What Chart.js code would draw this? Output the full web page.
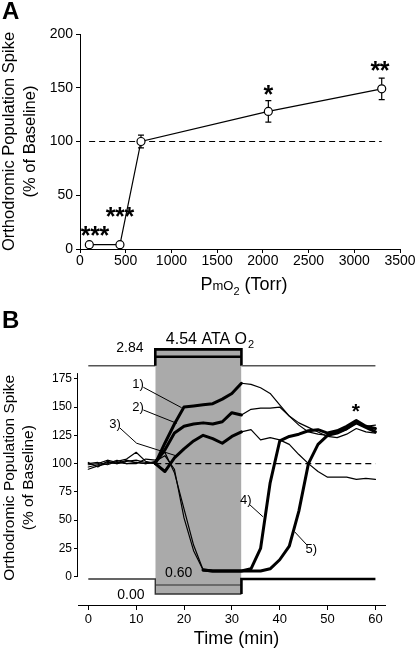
<!DOCTYPE html>
<html>
<head>
<meta charset="utf-8">
<script src="https://cdn.jsdelivr.net/npm/chart.js@4.4.1/dist/chart.umd.min.js"></script>
<style>
  body { margin: 0; background: #fff; }
  canvas { display: block; }
</style>
</head>
<body>
<canvas id="chartA" width="416" height="300"></canvas>
<canvas id="chartB" width="416" height="348"></canvas>
<script>
// ─── Panel A data ──────────────────────────
const pressureTorr = [102, 437, 667, 2060, 3300];
const spikeMean    = [4, 4, 100, 128, 149];
const spikeErr     = [0, 0, 6, 10, 10];
const starTextA    = ['***', '***', '*', '**'];
const starAtA      = [[164, 17], [437, 34], [2060, 148], [3281, 170]];
const baselineA    = [[100, 100], [3300, 100]];

// ─── Panel B data ──────────────────────────
const times = [0, 2, 4, 6, 8, 10, 12, 14, 16, 18, 20, 22, 24, 26, 28, 30,
               32, 34, 36, 38, 40, 42, 44, 46, 48, 50, 52, 54, 56, 58, 60];
const trace1 = [97, 99, 101, 100, 102, 103, 101, 100, 118, 135, 150, 151, 152, 153, 157, 162,
                171, 170, 167, 162, 152, 142, 136, 132, 128, 124, 123, 126, 131, 128, 127];
const trace2 = [95, 98, 100, 103, 100, 101, 100, 101, 112, 127, 133, 135, 136, 135, 137, 145,
                143, 148, 149, 149, 150, 142, 134, 128, 126, 125, 127, 130, 136, 133, 134];
const trace3 = [100, 101, 99, 102, 104, 110, 102, 100, 93, 105, 113, 120, 125, 122, 118, 124,
                128, 130, 121, 123, 121, 117, 108, 100, 93, 88, 88, 88, 86, 87, 86];
const trace4 = [99, 100, 103, 101, 100, 100, 104, 103, 110, 92, 60, 28, 6, 5, 5, 5,
                5, 7, 25, 83, 120, 124, 126, 129, 130, 127, 129, 133, 138, 133, 131];
const trace5 = [101, 97, 102, 100, 103, 101, 100, 102, 107, 95, 52, 23, 6, 5, 5, 5,
                5, 5, 5, 7, 15, 27, 58, 100, 117, 125, 127, 131, 136, 132, 128];

const xTicksB = [0, 10, 20, 30, 40, 50, 60];
const yTicksB = [0, 25, 50, 75, 100, 125, 150, 175];

// O2 protocol traces (drawn on the same % scale, above and below the data)
const o2Times     = [0, 14, 14, 32, 32, 60];
const chamberLine = [186.5, 186.5, 201, 201, 186.5, 186.5];
const chamberIn   = [[14, 194.5], [32, 194.5]];
const po2Line     = [-2, -2, -15.3, -15.3, -2, -2];
const po2In       = [[14, -7.3], [32, -7.3]];
const exposure    = [14, 32];

const traceLabels = ['1)', '2)', '3)', '4)', '5)'];
const labelAt     = [[10.4, 169.4], [10.4, 149], [5.6, 134], [32.9, 67], [46.6, 23.6]];
const leaders     = [
    [[11.5, 167.5], [19.5, 149.4]],
    [[11.5, 147.4], [18.5, 135.6]],
    [[6.6, 131.5], [10.1, 118], [18.5, 106.7]],
    [[33.8, 63.4], [36.5, 53]],
    [[45.7, 28], [43.1, 39.8]]
];

const FONT = "'Liberation Sans', Arial, sans-serif";
const pts = (xs, ys) => xs.map((x, i) => ({ x, y: ys[i] }));
const pairs = arr => arr.map(([x, y]) => ({ x, y }));

function inkCenter(ctx, text, x, y) {
    const m = ctx.measureText(text);
    ctx.textBaseline = 'alphabetic';
    ctx.fillText(text, x, y + (m.actualBoundingBoxAscent - m.actualBoundingBoxDescent) / 2);
}

function drawStars(ctx, text, x, y, gap) {
    const n = text.length;
    for (let i = 0; i < n; i++) inkCenter(ctx, '*', x + (i - (n - 1) / 2) * gap, y);
}

function yTitle(ctx, lines, xs, cy, size) {
    ctx.save();
    ctx.font = `${size}px ${FONT}`;
    ctx.fillStyle = '#000';
    ctx.textAlign = 'center';
    ctx.textBaseline = 'alphabetic';
    lines.forEach((t, i) => {
        ctx.save();
        ctx.translate(xs[i], cy);
        ctx.rotate(-Math.PI / 2);
        ctx.fillText(t, 0, 0);
        ctx.restore();
    });
    ctx.restore();
}

function axisStyle(tickLen, fontSize, pad) {
    return {
        grid:   { drawOnChartArea: false, drawTicks: true, tickLength: tickLen, color: '#000', lineWidth: 1 },
        border: { display: true, color: '#000', width: 1 },
        ticks:  {
            color: '#000', font: { family: FONT, size: fontSize }, padding: pad,
            maxRotation: 0, autoSkip: false, callback: v => String(v)
        }
    };
}

// ─── Chart A ───────────────────────────────

const panelAPlugin = {
    id: 'panelA',
    beforeDatasetsDraw(chart) {
        const { ctx, scales: { x, y } } = chart;
        ctx.save();
        ctx.strokeStyle = '#000';
        ctx.lineWidth = 1.2;
        pressureTorr.forEach((p, i) => {
            if (!spikeErr[i]) return;
            const px = x.getPixelForValue(p);
            const top = y.getPixelForValue(spikeMean[i] + spikeErr[i]);
            const bot = y.getPixelForValue(spikeMean[i] - spikeErr[i]);
            ctx.beginPath();
            ctx.moveTo(px, top); ctx.lineTo(px, bot);
            ctx.moveTo(px - 3, top); ctx.lineTo(px + 3, top);
            ctx.moveTo(px - 3, bot); ctx.lineTo(px + 3, bot);
            ctx.stroke();
        });
        ctx.restore();
    },
    afterDraw(chart) {
        const { ctx, scales: { x, y } } = chart;
        ctx.save();
        ctx.fillStyle = '#000';
        ctx.textAlign = 'center';
        ctx.font = `bold 25px ${FONT}`;
        starAtA.forEach(([p, v], i) => drawStars(ctx, starTextA[i], x.getPixelForValue(p), y.getPixelForValue(v), 9.3));

        // panel letter
        ctx.textAlign = 'left';
        ctx.textBaseline = 'top';
        ctx.font = `bold 24px ${FONT}`;
        ctx.fillText('A', 2, 0);

        // x title with subscripts
        const parts = [['P', 18, 0], ['mO', 13, 0], ['2', 11, 5], [' (Torr)', 18, 0]];
        let w = 0;
        parts.forEach(([t, s]) => { ctx.font = `${s}px ${FONT}`; w += ctx.measureText(t).width; });
        let cx = (x.left + x.right) / 2 + 4 - w / 2;
        ctx.textBaseline = 'alphabetic';
        parts.forEach(([t, s, dy]) => {
            ctx.font = `${s}px ${FONT}`;
            ctx.fillText(t, cx, 290 + dy);
            cx += ctx.measureText(t).width;
        });
        ctx.restore();

        yTitle(ctx, ['Orthodromic Population Spike', '(% of Baseline)'], [14, 35], (y.top + y.bottom) / 2, 16.5);
    }
};

new Chart(document.getElementById('chartA'), {
    type: 'line',
    data: {
        datasets: [
            {
                data: pts(pressureTorr, spikeMean),
                borderColor: '#000',
                borderWidth: 1.2,
                pointRadius: 4,
                pointBackgroundColor: '#fff',
                pointBorderColor: '#000',
                pointBorderWidth: 1.2,
                order: 0
            },
            {
                data: pairs(baselineA),
                borderColor: '#000',
                borderWidth: 1.2,
                borderDash: [6, 4],
                pointRadius: 0,
                order: 1
            }
        ]
    },
    options: {
        responsive: false,
        animation: false,
        clip: false,
        layout: { padding: { top: 34, right: 16, left: 0, bottom: 0 } },
        plugins: { legend: { display: false }, tooltip: { enabled: false } },
        scales: {
            x: {
                type: 'linear', min: 0, max: 3500,
                ...axisStyle(4, 14, 0),
                ticks: { ...axisStyle(4, 14, 0).ticks, stepSize: 500 },
                afterFit: s => { s.height = 51; }
            },
            y: {
                min: 0, max: 200,
                ...axisStyle(4, 14, 3),
                ticks: { ...axisStyle(4, 14, 3).ticks, stepSize: 50 },
                afterFit: s => { s.width = 80; }
            }
        }
    },
    plugins: [panelAPlugin]
});

// ─── Chart B ───────────────────────────────

const panelBPlugin = {
    id: 'panelB',
    afterDraw(chart) {
        const { ctx, scales: { x, y } } = chart;
        const X = v => x.getPixelForValue(v);
        const Y = v => y.getPixelForValue(v);
        ctx.save();

        // y axis line only over the data range
        ctx.strokeStyle = '#000';
        ctx.lineWidth = 1;
        ctx.beginPath();
        ctx.moveTo(x.left - 0.5, Y(0));
        ctx.lineTo(x.left - 0.5, Y(180));
        ctx.stroke();

        ctx.fillStyle = '#000';
        ctx.textAlign = 'center';

        // trace labels
        ctx.font = `13px ${FONT}`;
        labelAt.forEach(([t, v], i) => inkCenter(ctx, traceLabels[i], X(t), Y(v)));

        // O2 protocol labels
        ctx.font = `14px ${FONT}`;
        inkCenter(ctx, '2.84', X(8.7), Y(203.4));
        inkCenter(ctx, '0.60', X(18.9), Y(4.4));
        inkCenter(ctx, '0.00', X(8.9), Y(-15.3));

        ctx.textAlign = 'left';
        ctx.font = `16px ${FONT}`;
        const main = '4.54 ATA O';
        const m = ctx.measureText('4');
        const base = Y(210.8) + m.actualBoundingBoxAscent / 2;
        ctx.textBaseline = 'alphabetic';
        ctx.fillText(main, X(16.2), base);
        const mw = ctx.measureText(main).width;
        ctx.font = `11px ${FONT}`;
        ctx.fillText('2', X(16.2) + mw + 1, base + 4);

        // significance star
        ctx.textAlign = 'center';
        ctx.font = `bold 21px ${FONT}`;
        inkCenter(ctx, '*', X(55.9), Y(149));

        // panel letter
        ctx.textAlign = 'left';
        ctx.textBaseline = 'top';
        ctx.font = `bold 24px ${FONT}`;
        ctx.fillText('B', 2, 9);

        // x title
        ctx.textAlign = 'center';
        ctx.textBaseline = 'alphabetic';
        ctx.font = `18px ${FONT}`;
        ctx.fillText('Time (min)', 236.5, 343.5);
        ctx.restore();

        yTitle(ctx, ['Orthodromic Population Spike', '(% of Baseline)'], [14, 33], (Y(0) + Y(175)) / 2, 15.5);
    }
};

const segW = (lo, hi) => c => (c.p0.parsed.x >= lo && c.p1.parsed.x <= hi ? 3 : 1.2);

function traceSet(values, lo, hi) {
    return {
        data: pts(times, values),
        borderColor: '#000',
        borderWidth: 1.2,
        borderJoinStyle: 'round',
        borderCapStyle: 'round',
        pointRadius: 0,
        segment: { borderWidth: segW(lo, hi) },
        order: 1
    };
}

function plainLine(data, width, color, extra) {
    return Object.assign({
        data, borderColor: color, borderWidth: width, pointRadius: 0, order: 2
    }, extra || {});
}

const o2Seg = (thickFrom, thickTo, thinColor) => ({
    borderWidth: c => (c.p0.parsed.x >= thickFrom && c.p1.parsed.x <= thickTo ? 2.6 : 1.4),
    borderColor: c => (c.p0.parsed.x >= thickFrom && c.p1.parsed.x <= thickTo ? '#000' : thinColor)
});

new Chart(document.getElementById('chartB'), {
    type: 'line',
    data: {
        datasets: [
            traceSet(trace1, 14, 32),
            traceSet(trace2, 14, 32),
            traceSet(trace3, 14, 32),
            traceSet(trace4, 24, 60),
            traceSet(trace5, 24, 60),
            ...leaders.map(l => plainLine(pairs(l), 1, '#000', { order: 0 })),
            plainLine(pairs([[exposure[0], 100], [60, 100]]), 1.2, '#000', { borderDash: [6, 4], order: 3 }),
            plainLine(pts(o2Times, chamberLine), 1.4, '#555', { segment: o2Seg(14, 32, '#555') }),
            plainLine(pairs(chamberIn), 2.6, '#000'),
            plainLine(pts(o2Times, po2Line), 1.4, '#222', { segment: o2Seg(32, 60, '#333') }),
            plainLine(pairs(po2In), 1.4, '#555'),
            {
                data: pairs([[exposure[0], 201], [exposure[1], 201]]),
                borderWidth: 0,
                pointRadius: 0,
                backgroundColor: '#aaaaaa',
                fill: { value: -15.3 },
                order: 10
            }
        ]
    },
    options: {
        responsive: false,
        animation: false,
        clip: false,
        layout: { padding: { top: 33.5, right: 31, left: 0, bottom: 0 } },
        plugins: { legend: { display: false }, tooltip: { enabled: false } },
        scales: {
            x: {
                type: 'linear', min: -2.15, max: 62,
                ...axisStyle(5, 13, 2),
                afterBuildTicks: s => { s.ticks = xTicksB.map(value => ({ value })); },
                afterFit: s => { s.height = 43; }
            },
            y: {
                min: -25, max: 215,
                ...axisStyle(4, 12, 2),
                border: { display: false },
                afterBuildTicks: s => { s.ticks = yTicksB.map(value => ({ value })); },
                afterFit: s => { s.width = 78; }
            }
        }
    },
    plugins: [panelBPlugin]
});
</script>
</body>
</html>
